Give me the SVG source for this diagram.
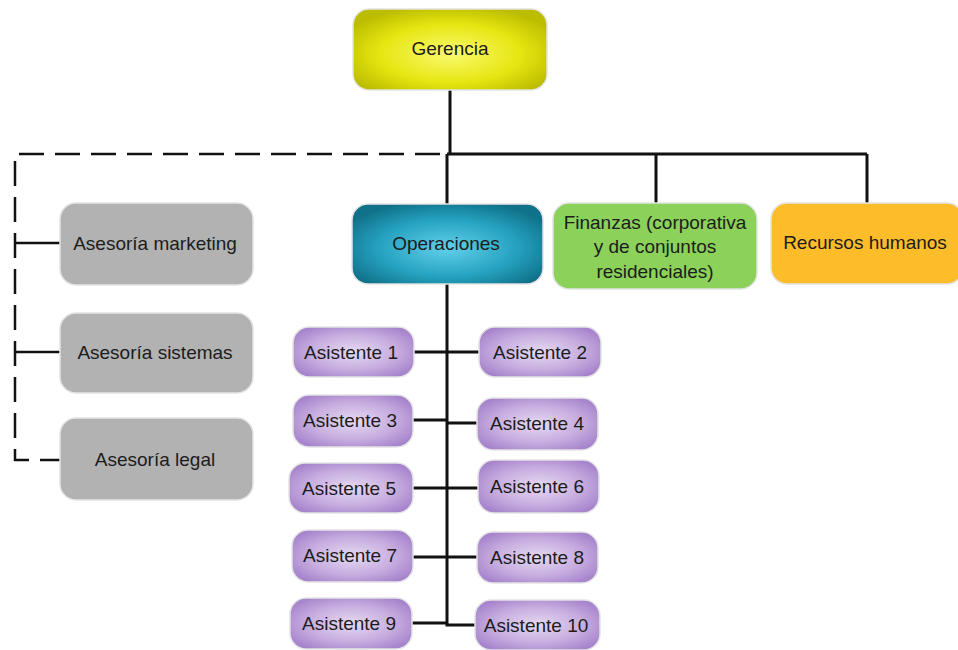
<svg xmlns="http://www.w3.org/2000/svg" width="958" height="650" viewBox="0 0 958 650">
<defs>
<radialGradient id="gYellow" cx="50%" cy="55%" r="60%">
<stop offset="0" stop-color="#fafa70"/>
<stop offset="0.6" stop-color="#e6e612"/>
<stop offset="1" stop-color="#bdbd00"/>
</radialGradient>
<radialGradient id="gTeal" cx="50%" cy="55%" r="60%">
<stop offset="0" stop-color="#62d0ea"/>
<stop offset="0.6" stop-color="#25a2c0"/>
<stop offset="1" stop-color="#10728a"/>
</radialGradient>
<radialGradient id="gPurple" cx="50%" cy="50%" r="60%">
<stop offset="0" stop-color="#e6daf2"/>
<stop offset="0.6" stop-color="#c6acdf"/>
<stop offset="1" stop-color="#a683cc"/>
</radialGradient>
</defs>
<style>
text{font-family:"Liberation Sans",Arial,sans-serif;font-size:19px;fill:#1c1c1c;text-anchor:middle}
.box{stroke:#e4e4e4;stroke-width:1.5}
.gray{fill:#b2b2b2}
.asst{fill:url(#gPurple)}
.line{fill:none;stroke:#111;stroke-width:3}
.dash{fill:none;stroke:#111;stroke-width:2.5;stroke-dasharray:25 11}
</style>
<rect width="958" height="650" fill="#fff"/>
<g id="connectors">
<path class="line" d="M450 90V154M447 154H867M447 154V205M656 154V205M867 154V204"/>
<path class="dash" d="M440 154H15V460H60"/>
<path class="line" style="stroke-width:2.5" d="M15 243H60M15 352H60"/>
<path class="line" d="M447 284V625M414 352H479M413 420H447V423H477M413 488H478M413 557H477M412 623H447V625H475"/>
</g>
<g id="gerencia"><rect class="box" x="353" y="9" width="194" height="81" rx="16" fill="url(#gYellow)"/><text x="450" y="55">Gerencia</text></g>
<g id="asesoria-marketing"><rect class="box gray" x="60" y="203" width="193" height="82" rx="16"/><text x="155" y="250">Asesoría marketing</text></g>
<g id="asesoria-sistemas"><rect class="box gray" x="60" y="313" width="193" height="80" rx="16"/><text x="155" y="359">Asesoría sistemas</text></g>
<g id="asesoria-legal"><rect class="box gray" x="60" y="418" width="193" height="82" rx="16"/><text x="155" y="466">Asesoría legal</text></g>
<g id="operaciones"><rect class="box" x="352" y="204" width="191" height="80" rx="16" fill="url(#gTeal)"/><text x="446" y="250">Operaciones</text></g>
<g id="finanzas"><rect class="box" x="553" y="203" width="204" height="86" rx="16" fill="#8bd15a"/><text x="655" y="229">Finanzas (corporativa</text><text x="655" y="253">y de conjuntos</text><text x="655" y="278">residenciales)</text></g>
<g id="recursos-humanos"><rect class="box" x="771" y="203" width="192" height="81" rx="16" fill="#fdbd2b"/><text x="865" y="249">Recursos humanos</text></g>
<g id="asistente-1"><rect class="box asst" x="293" y="327" width="121" height="50" rx="16"/><text x="351" y="359">Asistente 1</text></g>
<g id="asistente-2"><rect class="box asst" x="479" y="327" width="122" height="50" rx="16"/><text x="540" y="359">Asistente 2</text></g>
<g id="asistente-3"><rect class="box asst" x="293" y="395" width="120" height="52" rx="16"/><text x="350" y="427">Asistente 3</text></g>
<g id="asistente-4"><rect class="box asst" x="477" y="398" width="121" height="52" rx="16"/><text x="537" y="430">Asistente 4</text></g>
<g id="asistente-5"><rect class="box asst" x="289" y="463" width="124" height="50" rx="16"/><text x="349" y="495">Asistente 5</text></g>
<g id="asistente-6"><rect class="box asst" x="478" y="460" width="121" height="53" rx="16"/><text x="537" y="493">Asistente 6</text></g>
<g id="asistente-7"><rect class="box asst" x="292" y="530" width="121" height="52" rx="16"/><text x="350" y="562">Asistente 7</text></g>
<g id="asistente-8"><rect class="box asst" x="477" y="532" width="121" height="51" rx="16"/><text x="537" y="564">Asistente 8</text></g>
<g id="asistente-9"><rect class="box asst" x="290" y="598" width="122" height="51" rx="16"/><text x="349" y="630">Asistente 9</text></g>
<g id="asistente-10"><rect class="box asst" x="475" y="600" width="125" height="50" rx="16"/><text x="536" y="632">Asistente 10</text></g>
</svg>
